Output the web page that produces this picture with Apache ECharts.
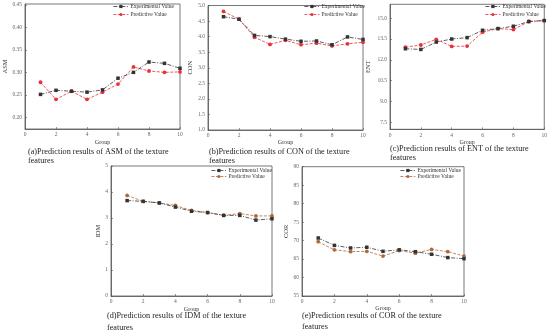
<!DOCTYPE html>
<html>
<head>
<meta charset="utf-8">
<script src="https://cdn.jsdelivr.net/npm/echarts@6/dist/echarts.min.js"></script>
<style>html,body{margin:0;padding:0;background:#fff;}#c{width:550px;height:332px;}</style>
</head>
<body>
<div id="c"></div>
<script>
const groups = [1, 2, 3, 4, 5, 6, 7, 8, 9, 10];
const xTicks = [0, 2, 4, 6, 8, 10];

const asmExp  = [0.251, 0.260, 0.258, 0.256, 0.261, 0.287, 0.300, 0.323, 0.320, 0.309];
const asmPred = [0.278, 0.240, 0.258, 0.240, 0.256, 0.274, 0.312, 0.303, 0.300, 0.301];
const asmTicks = [0.20, 0.25, 0.30, 0.35, 0.40, 0.45];

const conExp  = [4.64, 4.56, 4.04, 4.00, 3.92, 3.85, 3.86, 3.74, 3.99, 3.91];
const conPred = [4.81, 4.56, 3.98, 3.75, 3.88, 3.74, 3.79, 3.70, 3.77, 3.82];
const conTicks = [1.0, 1.5, 2.0, 2.5, 3.0, 3.5, 4.0, 4.5, 5.0];

const entExp  = [12.80, 12.75, 13.28, 13.50, 13.60, 14.13, 14.25, 14.42, 14.76, 14.83];
const entPred = [12.92, 13.07, 13.48, 12.97, 12.99, 13.99, 14.25, 14.18, 14.76, 14.83];
const entTicks = [7.5, 9.0, 10.5, 12.0, 13.5, 15.0];

const idmExp  = [3.67, 3.64, 3.58, 3.42, 3.26, 3.21, 3.10, 3.10, 2.92, 2.97];
const idmPred = [3.87, 3.64, 3.58, 3.48, 3.29, 3.21, 3.10, 3.17, 3.08, 3.08];
const idmTicks = [0, 1, 2, 3, 4, 5];

const corExp  = [70.7, 68.7, 68.0, 68.2, 67.1, 67.5, 67.0, 66.3, 65.4, 65.1];
const corPred = [69.7, 67.5, 67.0, 67.1, 65.8, 67.3, 66.6, 67.6, 67.0, 65.8];
const corTicks = [55, 60, 65, 70, 75, 80, 85, 90];

const seriesNames = ['Experimental Value', 'Predictive Value'];
const captions = [
  ['(a)Prediction results of ASM of the texture', 'features'],
  ['(b)Prediction results of CON of the texture', 'features'],
  ['(c)Prediction results of ENT of the texture', 'features'],
  ['(d)Prediction results of IDM of the texture', 'features'],
  ['(e)Prediction results of COR of the texture', 'features']
];

const FONT = 'Liberation Serif';
const BLACK = '#333333';
const RED = '#e8303a';
const BROWN = '#b0683c';

const panels = [
  {exp: asmExp, pred: asmPred, ticks: asmTicks, name: 'ASM', min: 0.174, max: 0.452, dec: 2,
   grid: {left: 25, top: 4, width: 155, height: 125}, predColor: RED, yGap: 16, xGap: 10,
   legend: {left: 113, top: 3.5, gap: 2}, cap: {x: 28, y: 147.5, y2: 156.5}},
  {exp: conExp, pred: conPred, ticks: conTicks, name: 'CON', min: 1, max: 5, dec: 1,
   grid: {left: 208, top: 5.5, width: 155, height: 124.5}, predColor: RED, yGap: 13, xGap: 9,
   legend: {left: 304, top: 3.5, gap: 2}, cap: {x: 209, y: 147.5, y2: 156.5}},
  {exp: entExp, pred: entPred, ticks: entTicks, name: 'ENT', min: 7, max: 16, dec: 1,
   grid: {left: 390, top: 4.3, width: 156, height: 125}, predColor: RED, yGap: 18, xGap: 4,
   legend: {left: 485, top: 3.5, gap: 2}, cap: {x: 390, y: 144.5, y2: 153.5}},
  {exp: idmExp, pred: idmPred, ticks: idmTicks, name: 'IDM', min: 0, max: 5, dec: 0,
   grid: {left: 111, top: 166, width: 161, height: 130}, predColor: BROWN, yGap: 8, xGap: 10,
   legend: {left: 211, top: 167.5, gap: 0}, cap: {x: 107, y: 312, y2: 323.5}},
  {exp: corExp, pred: corPred, ticks: corTicks, name: 'COR', min: 55, max: 90, dec: 0,
   grid: {left: 302, top: 166.7, width: 162, height: 129.3}, predColor: BROWN, yGap: 9, xGap: 9,
   legend: {left: 400, top: 167.5, gap: 0}, cap: {x: 302, y: 311.5, y2: 323}}
];

const option = {
  backgroundColor: '#ffffff',
  animation: false,
  grid: [], xAxis: [], yAxis: [], series: [], legend: [], graphic: []
};

const pairs = vals => groups.map((g, i) => [g, vals[i]]);

panels.forEach((p, i) => {
  option.grid.push(Object.assign({show: true, borderColor: '#555', borderWidth: 0.8, backgroundColor: 'transparent'}, p.grid));
  option.xAxis.push({
    type: 'value', gridIndex: i, min: 0, max: 10, interval: 2,
    name: 'Group', nameLocation: 'middle', nameGap: p.xGap,
    nameTextStyle: {fontFamily: FONT, fontSize: 6, color: '#333'},
    axisLine: {show: true, onZero: false, lineStyle: {color: '#555', width: 0.8}},
    axisTick: {show: true, inside: true, length: 2, lineStyle: {color: '#555', width: 0.6}},
    axisLabel: {fontFamily: FONT, fontSize: 5.5, color: '#666', margin: 3,
                customValues: xTicks},
    splitLine: {show: false}
  });
  option.yAxis.push({
    type: 'value', gridIndex: i, min: p.min, max: p.max,
    name: p.name, nameLocation: 'middle', nameGap: p.yGap, nameRotate: 90,
    nameTextStyle: {fontFamily: FONT, fontSize: 6.5, color: '#333'},
    axisLine: {show: true, onZero: false, lineStyle: {color: '#555', width: 0.8}},
    axisTick: {show: true, inside: true, length: 2, customValues: p.ticks, lineStyle: {color: '#555', width: 0.6}},
    axisLabel: {fontFamily: FONT, fontSize: 5.5, color: '#666', margin: 3,
                customValues: p.ticks, formatter: v => Number(v).toFixed(p.dec)},
    splitLine: {show: false}
  });
  option.series.push({
    type: 'line', name: seriesNames[0], xAxisIndex: i, yAxisIndex: i,
    data: pairs(p.exp), symbol: 'rect', symbolSize: 3.5,
    lineStyle: {color: BLACK, width: 0.8, type: [4, 1.5, 1, 1.5]},
    itemStyle: {color: BLACK}, z: 3
  });
  option.series.push({
    type: 'line', name: seriesNames[1], xAxisIndex: i, yAxisIndex: i,
    data: pairs(p.pred), symbol: 'circle', symbolSize: 3.8,
    lineStyle: {color: p.predColor, width: 0.8, type: [3, 1.5]},
    itemStyle: {color: p.predColor}, z: 2
  });
  option.legend.push({
    orient: 'vertical', left: p.legend.left, top: p.legend.top,
    itemWidth: 15, itemHeight: 4, itemGap: p.legend.gap, padding: 0,
    textStyle: {fontFamily: FONT, fontSize: 5.5, color: '#333', padding: [0, 0, 0, -3]},
    data: [
      {name: seriesNames[0], itemStyle: {color: BLACK}, lineStyle: {color: BLACK, type: [4, 1.5, 1, 1.5], width: 0.8}},
      {name: seriesNames[1], itemStyle: {color: p.predColor}, lineStyle: {color: p.predColor, type: [3, 1.5], width: 0.8}}
    ]
  });
  option.graphic.push({type: 'text', left: p.cap.x, top: p.cap.y,
    style: {text: captions[i][0], font: '8.2px "' + FONT + '"', fill: '#222'}});
  option.graphic.push({type: 'text', left: p.cap.x, top: p.cap.y2,
    style: {text: captions[i][1], font: '8.2px "' + FONT + '"', fill: '#222'}});
});

const chart = echarts.init(document.getElementById('c'), null, {renderer: 'canvas'});
chart.setOption(option);
</script>
</body>
</html>
